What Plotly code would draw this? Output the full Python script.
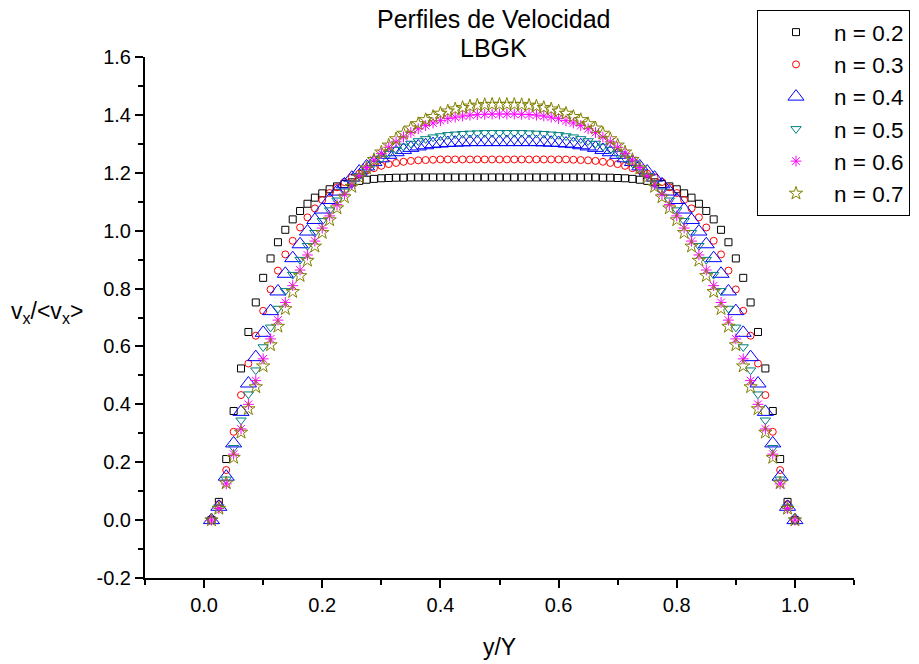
import plotly.graph_objects as go

# y/Y positions of the lattice nodes
y_pos = [0.0125, 0.025, 0.0375, 0.05, 0.0625, 0.075, 0.0875, 0.1, 0.1125, 0.125,
         0.1375, 0.15, 0.1625, 0.175, 0.1875, 0.2, 0.2125, 0.225, 0.2375, 0.25,
         0.2625, 0.275, 0.2875, 0.3, 0.3125, 0.325, 0.3375, 0.35, 0.3625, 0.375,
         0.3875, 0.4, 0.4125, 0.425, 0.4375, 0.45, 0.4625, 0.475, 0.4875, 0.5,
         0.5125, 0.525, 0.5375, 0.55, 0.5625, 0.575, 0.5875, 0.6, 0.6125, 0.625,
         0.6375, 0.65, 0.6625, 0.675, 0.6875, 0.7, 0.7125, 0.725, 0.7375, 0.75,
         0.7625, 0.775, 0.7875, 0.8, 0.8125, 0.825, 0.8375, 0.85, 0.8625, 0.875,
         0.8875, 0.9, 0.9125, 0.925, 0.9375, 0.95, 0.9625, 0.975, 0.9875, 1.0]

# v_x/<v_x> for each power-law index n
v_n02 = [0.0, 0.063, 0.211, 0.377, 0.524, 0.650, 0.752, 0.837, 0.904, 0.960,
         1.003, 1.039, 1.068, 1.093, 1.114, 1.129, 1.143, 1.153, 1.161, 1.167,
         1.172, 1.176, 1.179, 1.181, 1.182, 1.183, 1.183, 1.184, 1.184, 1.184,
         1.184, 1.184, 1.184, 1.184, 1.184, 1.184, 1.184, 1.184, 1.184, 1.184,
         1.184, 1.184, 1.184, 1.184, 1.184, 1.184, 1.184, 1.184, 1.184, 1.184,
         1.184, 1.184, 1.184, 1.183, 1.183, 1.182, 1.181, 1.179, 1.176, 1.172,
         1.167, 1.161, 1.153, 1.143, 1.129, 1.114, 1.093, 1.068, 1.039, 1.003,
         0.960, 0.904, 0.837, 0.752, 0.650, 0.524, 0.377, 0.211, 0.063, 0.0]

v_n03 = [0.0, 0.055, 0.173, 0.305, 0.432, 0.541, 0.637, 0.723, 0.797, 0.862,
         0.918, 0.965, 1.011, 1.046, 1.077, 1.106, 1.130, 1.150, 1.168, 1.184,
         1.197, 1.208, 1.216, 1.224, 1.230, 1.234, 1.238, 1.241, 1.243, 1.244,
         1.245, 1.246, 1.246, 1.246, 1.246, 1.246, 1.246, 1.246, 1.246, 1.246,
         1.246, 1.246, 1.246, 1.246, 1.246, 1.246, 1.246, 1.246, 1.246, 1.245,
         1.244, 1.243, 1.241, 1.238, 1.234, 1.230, 1.224, 1.216, 1.208, 1.197,
         1.184, 1.168, 1.150, 1.130, 1.106, 1.077, 1.046, 1.011, 0.965, 0.918,
         0.862, 0.797, 0.723, 0.637, 0.541, 0.432, 0.305, 0.173, 0.055, 0.0]

v_n04 = [0.0, 0.046, 0.150, 0.265, 0.374, 0.472, 0.563, 0.647, 0.722, 0.790,
         0.851, 0.905, 0.953, 0.997, 1.037, 1.073, 1.106, 1.135, 1.160, 1.183,
         1.204, 1.222, 1.237, 1.250, 1.262, 1.271, 1.279, 1.286, 1.291, 1.295,
         1.299, 1.301, 1.303, 1.304, 1.305, 1.306, 1.306, 1.306, 1.306, 1.306,
         1.306, 1.306, 1.306, 1.306, 1.306, 1.305, 1.304, 1.303, 1.301, 1.299,
         1.295, 1.291, 1.286, 1.279, 1.271, 1.262, 1.250, 1.237, 1.222, 1.204,
         1.183, 1.160, 1.135, 1.106, 1.073, 1.037, 0.997, 0.953, 0.905, 0.851,
         0.790, 0.722, 0.647, 0.563, 0.472, 0.374, 0.265, 0.150, 0.046, 0.0]

v_n05 = [0.0, 0.045, 0.141, 0.250, 0.345, 0.435, 0.518, 0.598, 0.666, 0.731,
         0.792, 0.848, 0.900, 0.948, 0.993, 1.034, 1.071, 1.105, 1.136, 1.164,
         1.190, 1.212, 1.233, 1.250, 1.266, 1.280, 1.291, 1.301, 1.310, 1.317,
         1.323, 1.327, 1.331, 1.333, 1.335, 1.336, 1.337, 1.338, 1.338, 1.338,
         1.338, 1.338, 1.338, 1.337, 1.336, 1.335, 1.333, 1.331, 1.327, 1.323,
         1.317, 1.310, 1.301, 1.291, 1.280, 1.266, 1.250, 1.233, 1.212, 1.190,
         1.164, 1.136, 1.105, 1.071, 1.034, 0.993, 0.948, 0.900, 0.848, 0.792,
         0.731, 0.666, 0.598, 0.518, 0.435, 0.345, 0.250, 0.141, 0.045, 0.0]

v_n06 = [0.0, 0.040, 0.125, 0.228, 0.315, 0.400, 0.482, 0.557, 0.626, 0.691,
         0.752, 0.810, 0.864, 0.916, 0.964, 1.009, 1.051, 1.090, 1.126, 1.159,
         1.190, 1.218, 1.244, 1.267, 1.288, 1.307, 1.324, 1.339, 1.352, 1.363,
         1.372, 1.380, 1.387, 1.392, 1.396, 1.399, 1.401, 1.402, 1.403, 1.403,
         1.403, 1.403, 1.402, 1.401, 1.399, 1.396, 1.392, 1.387, 1.380, 1.372,
         1.363, 1.352, 1.339, 1.324, 1.307, 1.288, 1.267, 1.244, 1.218, 1.190,
         1.159, 1.126, 1.090, 1.051, 1.009, 0.964, 0.916, 0.864, 0.810, 0.752,
         0.691, 0.626, 0.557, 0.482, 0.400, 0.315, 0.228, 0.125, 0.040, 0.0]

v_n07 = [0.0, 0.040, 0.128, 0.216, 0.303, 0.384, 0.460, 0.532, 0.605, 0.669,
         0.730, 0.789, 0.844, 0.897, 0.946, 0.993, 1.037, 1.078, 1.116, 1.152,
         1.185, 1.216, 1.245, 1.271, 1.295, 1.317, 1.336, 1.354, 1.369, 1.383,
         1.394, 1.405, 1.413, 1.420, 1.425, 1.430, 1.433, 1.435, 1.436, 1.436,
         1.436, 1.436, 1.435, 1.433, 1.430, 1.425, 1.420, 1.413, 1.405, 1.394,
         1.383, 1.369, 1.354, 1.336, 1.317, 1.295, 1.271, 1.245, 1.216, 1.185,
         1.152, 1.116, 1.078, 1.037, 0.993, 0.946, 0.897, 0.844, 0.789, 0.730,
         0.669, 0.605, 0.532, 0.460, 0.384, 0.303, 0.216, 0.128, 0.040, 0.0]

names = ["n = 0.2", "n = 0.3", "n = 0.4", "n = 0.5", "n = 0.6", "n = 0.7"]
series = [v_n02, v_n03, v_n04, v_n05, v_n06, v_n07]

# y tick labels (plain hyphen for the negative one, like the original)
y_tickvals = [-0.2, 0.0, 0.2, 0.4, 0.6, 0.8, 1.0, 1.2, 1.4, 1.6]
y_ticktext = ["-0.2", "0.0", "0.2", "0.4", "0.6", "0.8", "1.0", "1.2", "1.4", "1.6"]

# marker look per series: symbol, colour, size
styles = [("square-open", "black", 7),
          ("circle-open", "red", 7),
          ("triangle-up-open", "blue", 14),
          ("triangle-down-open", "#008080", 9),
          ("asterisk-open", "magenta", 9),
          ("star-open", "#808000", 10)]

font_family = "Arial, Liberation Sans, sans-serif"

fig = go.Figure()
for name, vals, (sym, col, size) in zip(names, series, styles):
    fig.add_trace(go.Scatter(x=y_pos, y=vals, mode="markers", name=name,
                             marker=dict(symbol=sym, size=size, color=col,
                                         line=dict(color=col, width=1))))

# the page body adds an 8px offset, margins are set with that in mind
fig.update_layout(
    width=919, height=664,
    margin=dict(l=137, r=73, t=49, b=94, autoexpand=False),
    plot_bgcolor="white", paper_bgcolor="white",
    font=dict(family=font_family, size=20, color="black"),
    legend=dict(xref="container", yref="container", x=0.815, y=0.997,
                xanchor="left", yanchor="top", itemwidth=66,
                bordercolor="black", borderwidth=1, bgcolor="white",
                font=dict(size=22.5)),
    showlegend=True,
)

fig.update_xaxes(range=[-0.1, 1.1], tick0=0, dtick=0.2, tickformat=".1f",
                 showgrid=False, zeroline=False, showline=True, automargin=False,
                 linecolor="black", linewidth=2,
                 ticks="outside", ticklen=8, tickwidth=1.5, tickcolor="black",
                 minor=dict(dtick=0.1, tick0=0, ticks="outside", ticklen=5,
                            tickwidth=1.5, tickcolor="black", showgrid=False),
                 title=dict(text="y/Y", font=dict(size=23), standoff=24))

fig.update_yaxes(range=[-0.2, 1.6], tickmode="array",
                 tickvals=y_tickvals, ticktext=y_ticktext,
                 showgrid=False, zeroline=False, showline=True, automargin=False,
                 linecolor="black", linewidth=2,
                 ticks="outside", ticklen=8, tickwidth=1.5, tickcolor="black",
                 minor=dict(dtick=0.1, tick0=0, ticks="outside", ticklen=5,
                            tickwidth=1.5, tickcolor="black", showgrid=False))

# two-line title, one annotation per line
fig.add_annotation(text="Perfiles de Velocidad",
                   xref="paper", yref="paper", x=0.492, y=1.072,
                   xanchor="center", yanchor="middle",
                   showarrow=False, font=dict(size=25))
fig.add_annotation(text="LBGK",
                   xref="paper", yref="paper", x=0.492, y=1.018,
                   xanchor="center", yanchor="middle",
                   showarrow=False, font=dict(size=25))

# horizontal y-axis label, as in the original
fig.add_annotation(text="v<sub>x</sub>/&lt;v<sub>x</sub>&gt;",
                   xref="paper", yref="paper", x=-0.138, y=0.509,
                   xanchor="center", yanchor="middle",
                   showarrow=False, font=dict(size=23))

fig.write_html("out.html")
